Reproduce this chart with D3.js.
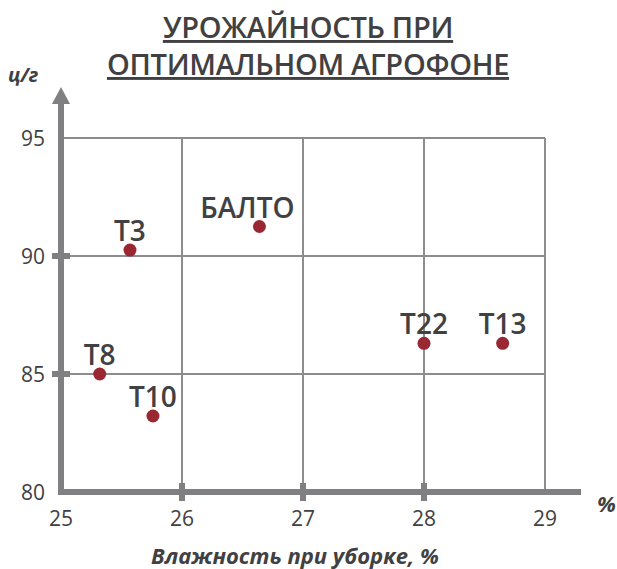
<!DOCTYPE html>
<html>
<head>
<meta charset="utf-8">
<script src="https://cdn.jsdelivr.net/npm/d3@7"></script>
<style>
  body { margin: 0; background: #fff; }
  text { font-family: "Open Sans", "Noto Sans", sans-serif; fill: #414042; }
</style>
</head>
<body>
<div id="viz"></div>
<script>
const names = ["Т3", "БАЛТО", "Т8", "Т10", "Т22", "Т13"];
const moisture = [25.57, 26.64, 25.32, 25.76, 28.0, 28.65]; // влажность, %
const yieldV = [90.25, 91.25, 85.0, 83.22, 86.3, 86.3];    // урожайность, ц/г
const xTicks = [25, 26, 27, 28, 29];
const yTicks = [80, 85, 90, 95];

const W = 617, H = 569;
const axisCol = "#808083", gridCol = "#8d8d90", dotCol = "#9a2833";

window.onload = () => draw();

function draw() {
    const svg = d3.select('#viz').append('svg')
	.attr('width', W)
	.attr('height', H);

    const x = d3.scaleLinear().domain([25, 29]).range([61, 545]);
    const y = d3.scaleLinear().domain([80, 95]).range([492, 138]);

    // title
    const title = svg.append('g').attr('text-anchor', 'middle');
    [["УРОЖАЙНОСТЬ ПРИ ", 38], ["ОПТИМАЛЬНОМ АГРОФОНЕ", 75]].forEach(([t, by]) => {
	title.append('text')
	    .attr('x', 308).attr('y', by)
	    .attr('font-size', 29).attr('font-weight', 600)
	    .attr('text-decoration', 'underline')
	    .style('letter-spacing', '-0.3px')
	    .text(t);
    });

    // grid
    svg.append('g').selectAll('line')
	.data(xTicks.slice(1))
	.enter().append('line')
	.attr('x1', d => x(d)).attr('x2', d => x(d))
	.attr('y1', y(95)).attr('y2', y(80))
	.attr('stroke', gridCol).attr('stroke-width', 2);

    svg.append('g').selectAll('line')
	.data(yTicks.slice(1))
	.enter().append('line')
	.attr('x1', x(25)).attr('x2', x(29))
	.attr('y1', d => y(d)).attr('y2', d => y(d))
	.attr('stroke', gridCol).attr('stroke-width', 2);

    // axes
    svg.append('line')
	.attr('x1', x(25)).attr('x2', x(25))
	.attr('y1', y(80) + 3).attr('y2', 102)
	.attr('stroke', axisCol).attr('stroke-width', 6);
    svg.append('path')
	.attr('d', `M${x(25) - 9},104 L${x(25) + 9},104 L${x(25)},87 Z`)
	.attr('fill', axisCol);
    svg.append('line')
	.attr('x1', x(25) - 3).attr('x2', 581)
	.attr('y1', y(80)).attr('y2', y(80))
	.attr('stroke', axisCol).attr('stroke-width', 6);

    // small crossbars on the axes
    svg.append('g').selectAll('rect')
	.data([26, 27, 28])
	.enter().append('rect')
	.attr('x', d => x(d) - 3).attr('y', y(80) - 9)
	.attr('width', 6).attr('height', 18)
	.attr('fill', axisCol);
    svg.append('g').selectAll('rect')
	.data([85, 90])
	.enter().append('rect')
	.attr('x', x(25) - 9).attr('y', d => y(d) - 3)
	.attr('width', 18).attr('height', 6)
	.attr('fill', axisCol);

    // tick labels
    svg.append('g').selectAll('text')
	.data(xTicks)
	.enter().append('text')
	.attr('x', d => x(d)).attr('y', 526)
	.attr('text-anchor', 'middle')
	.attr('font-size', 21)
	.text(d => d);
    svg.append('g').selectAll('text')
	.data(yTicks)
	.enter().append('text')
	.attr('x', 45).attr('y', d => y(d) + 8)
	.attr('text-anchor', 'end')
	.attr('font-size', 21)
	.text(d => d);

    // axis titles
    svg.append('text')
	.attr('x', 8).attr('y', 82)
	.attr('font-size', 20).attr('font-weight', 700).attr('font-style', 'italic')
	.text('ц/г');
    svg.append('text')
	.attr('x', 597).attr('y', 512)
	.attr('font-size', 22).attr('font-weight', 700).attr('font-style', 'italic')
	.text('%');
    svg.append('text')
	.attr('x', 295).attr('y', 564)
	.attr('text-anchor', 'middle')
	.attr('font-size', 22).attr('font-weight', 700).attr('font-style', 'italic')
	.text('Влажность при уборке, %');

    // points
    const pts = names.map((n, i) => ({ n: n, x: moisture[i], y: yieldV[i] }));
    svg.append('g').selectAll('circle')
	.data(pts)
	.enter().append('circle')
	.attr('cx', d => x(d.x)).attr('cy', d => y(d.y))
	.attr('r', 6.5)
	.attr('fill', dotCol);

    svg.append('g').selectAll('text')
	.data(pts)
	.enter().append('text')
	.attr('x', d => x(d.x) + (d.n === "БАЛТО" ? -12 : 0))
	.attr('y', d => y(d.y) - 9)
	.attr('text-anchor', 'middle')
	.attr('font-size', 28).attr('font-weight', 600)
	.text(d => d.n);
}
</script>
</body>
</html>
